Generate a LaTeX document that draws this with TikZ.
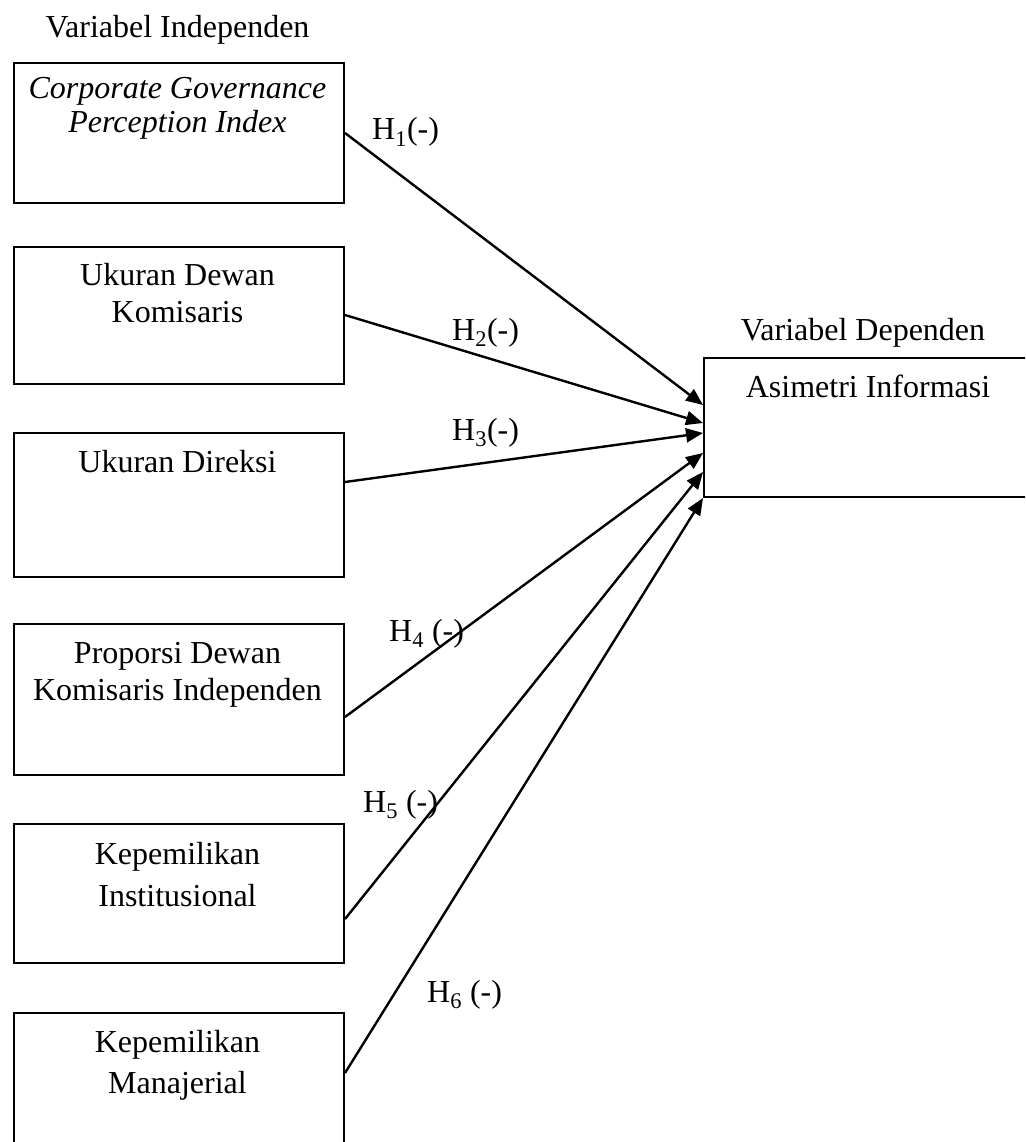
\documentclass[tikz,border=0pt]{standalone}
\usepackage{fontspec}
\setmainfont{Liberation Serif}
\usetikzlibrary{arrows.meta,calc}
\begin{document}
\begin{tikzpicture}[x=1pt,y=-1pt,
  box/.style={draw,line width=2pt,rectangle,inner sep=0pt,anchor=north west},
  txt/.style={inner sep=0pt,anchor=base,font=\fontsize{32}{38}\selectfont},
  lbl/.style={inner sep=0pt,anchor=base west,font=\fontsize{32}{38}\selectfont},
  arr/.style={line width=2.4pt,-{Triangle[length=17pt,width=14pt]}}]
\useasboundingbox (0,0) rectangle (1025,1142);
\clip (0,0) rectangle (1025,1142);
% boxes
\node[box,minimum width=330.5pt,minimum height=140pt] (b1) at (12.5,62) {};
\node[box,minimum width=330.5pt,minimum height=137.5pt] (b2) at (12.5,245.5) {};
\node[box,minimum width=330.5pt,minimum height=144pt] (b3) at (12.5,432) {};
\node[box,minimum width=330.5pt,minimum height=151pt] (b4) at (12.5,623) {};
\node[box,minimum width=330.5pt,minimum height=139pt] (b5) at (12.5,823) {};
\node[box,minimum width=330.5pt,minimum height=160pt] (b6) at (12.5,1012) {};
\node[box,minimum width=340pt,minimum height=139pt] (R) at (703,357) {};
% texts
\node[txt] (tvi) at (177.5,38) {Variabel Independen};
\node[txt] (t1a) at (177.5,99) {\itshape Corporate Governance};
\node[txt] (t1b) at (177.5,133) {\itshape Perception Index};
\node[txt] (t2a) at (177.5,285) {Ukuran Dewan};
\node[txt] (t2b) at (177.5,322) {Komisaris};
\node[txt] (t3) at (177.5,472) {Ukuran Direksi};
\node[txt] (t4a) at (177.5,663) {Proporsi Dewan};
\node[txt] (t4b) at (177.5,700) {Komisaris Independen};
\node[txt] (t5a) at (177.5,864) {Kepemilikan};
\node[txt] (t5b) at (177.5,906) {Institusional};
\node[txt] (t6a) at (177.5,1052) {Kepemilikan};
\node[txt] (t6b) at (177.5,1093) {Manajerial};
\node[txt] (tvd) at (863,340) {Variabel Dependen};
\node[txt] (tR) at (868,397) {Asimetri Informasi};
% arrows
\draw[arr] (b1.east |- 0,133) -- (R.west |- 0,405);
\draw[arr] (b2.east |- 0,315) -- (R.west |- 0,423);
\draw[arr] (b3.east |- 0,482) -- (R.west |- 0,433);
\draw[arr] (b4.east |- 0,717) -- (R.west |- 0,453);
\draw[arr] (b5.east |- 0,919) -- (R.west |- 0,472);
\draw[arr] (b6.east |- 0,1073) -- (R.west |- 0,498);
% labels
\node[lbl] (h1) at (372,140) {H\textsubscript{1}(-)};
\node[lbl] (h2) at (452,340) {H\textsubscript{2}(-)};
\node[lbl] (h3) at (452,440) {H\textsubscript{3}(-)};
\node[lbl] (h4) at (389,641) {H\textsubscript{4} (-)};
\node[lbl] (h5) at (363,812) {H\textsubscript{5} (-)};
\node[lbl] (h6) at (427,1002) {H\textsubscript{6} (-)};
\end{tikzpicture}
\end{document}
